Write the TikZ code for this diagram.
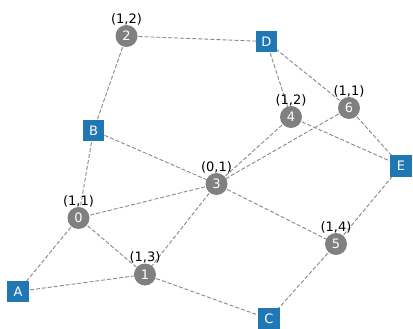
\documentclass[tikz,border=0pt]{standalone}
\usepackage{fontspec}
\setmainfont{DejaVu Sans}
\definecolor{mplblue}{HTML}{1F77B4}
\definecolor{nodegray}{HTML}{808080}
\definecolor{edgegray}{HTML}{888888}
\tikzset{
  cnode/.style={circle, fill=nodegray, minimum size=22pt, inner sep=0pt, text=white, font=\fontsize{13}{15}\selectfont},
  snode/.style={rectangle, fill=mplblue, minimum size=21.5pt, inner sep=0pt, text=white, font=\fontsize{13}{15}\selectfont},
  lab/.style={inner sep=0pt, text=black, font=\fontsize{13}{15}\selectfont},
  edge/.style={draw=edgegray, line width=0.9pt, dash pattern=on 4pt off 2pt},
}
\begin{document}
\begin{tikzpicture}[x=1pt, y=-1pt]
\useasboundingbox (0,0) rectangle (413,329);
% positions
\coordinate (p2) at (126.5,36);
\coordinate (pD) at (266.5,41.5);
\coordinate (p6) at (349,108);
\coordinate (p4) at (291,117);
\coordinate (pB) at (93.5,130.5);
\coordinate (pE) at (401,166);
\coordinate (p3) at (216.5,184);
\coordinate (p0) at (78.5,218);
\coordinate (p5) at (336,244);
\coordinate (p1) at (145,274.5);
\coordinate (pA) at (18,291.5);
\coordinate (pC) at (269,319);
% edges
\draw[edge] (p2) -- (pD);
\draw[edge] (p2) -- (pB);
\draw[edge] (pB) -- (p0);
\draw[edge] (pB) -- (p3);
\draw[edge] (pD) -- (p4);
\draw[edge] (pD) -- (p6);
\draw[edge] (p6) -- (pE);
\draw[edge] (p4) -- (pE);
\draw[edge] (p4) -- (p3);
\draw[edge] (p6) -- (p3);
\draw[edge] (p3) -- (p0);
\draw[edge] (p3) -- (p1);
\draw[edge] (p3) -- (p5);
\draw[edge] (p0) -- (pA);
\draw[edge] (p0) -- (p1);
\draw[edge] (pA) -- (p1);
\draw[edge] (p1) -- (pC);
\draw[edge] (pC) -- (p5);
\draw[edge] (p5) -- (pE);
% nodes
\node[cnode] (n0) at (p0) {0};
\node[cnode] (n1) at (p1) {1};
\node[cnode] (n2) at (p2) {2};
\node[cnode] (n3) at (p3) {3};
\node[cnode] (n4) at (p4) {4};
\node[cnode] (n5) at (p5) {5};
\node[cnode] (n6) at (p6) {6};
\node[snode] (nA) at (pA) {A};
\node[snode] (nB) at (pB) {B};
\node[snode] (nC) at (pC) {C};
\node[snode] (nD) at (pD) {D};
\node[snode] (nE) at (pE) {E};
% labels
\node[lab] (l0) at ([yshift=17pt]p0) {(1,1)};
\node[lab] (l1) at ([yshift=17pt]p1) {(1,3)};
\node[lab] (l2) at ([yshift=17pt]p2) {(1,2)};
\node[lab] (l3) at ([yshift=17pt]p3) {(0,1)};
\node[lab] (l4) at ([yshift=17pt]p4) {(1,2)};
\node[lab] (l5) at ([yshift=17pt]p5) {(1,4)};
\node[lab] (l6) at ([yshift=17pt]p6) {(1,1)};
\end{tikzpicture}
\end{document}
